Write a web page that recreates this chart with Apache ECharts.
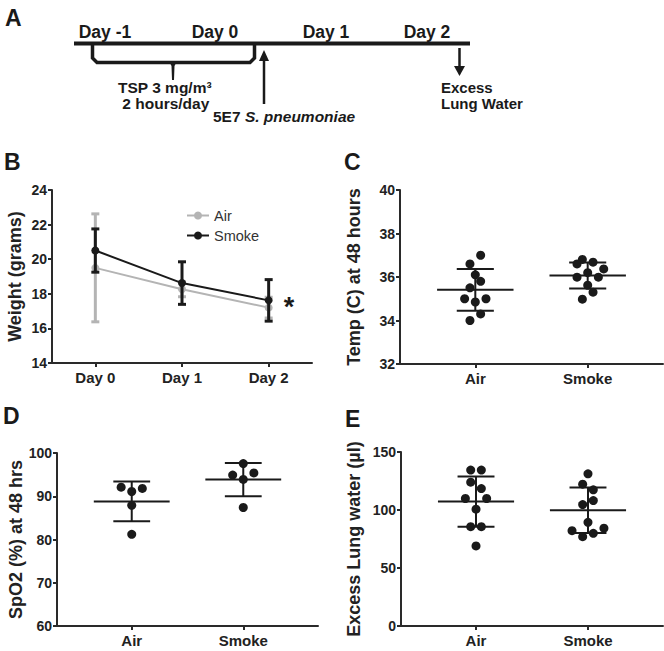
<!DOCTYPE html>
<html><head><meta charset="utf-8">
<script src="https://cdn.jsdelivr.net/npm/echarts@6/dist/echarts.min.js"></script>
<style>html,body{margin:0;padding:0;background:#fff}#c{width:664px;height:651px}</style>
</head><body><div id="c"></div>
<script>
// ---------- Panel B: body weight ----------
const weightDays = ['Day 0', 'Day 1', 'Day 2'];
const airWeight = [19.5, 18.26, 17.2];
const airWeightSD = [3.12, 0.43, 0.6];
const smokeWeight = [20.5, 18.62, 17.62];
const smokeWeightSD = [1.25, 1.23, 1.2];

// ---------- Groups for C, D, E ----------
const groups = ['Air', 'Smoke'];

// Panel C: temperature at 48 h
const tempAir = [37.0, 36.6, 36.1, 35.8, 35.5, 35.0, 34.85, 35.0, 34.3, 34.0];
const tempAirJit = [1, -1, 0, 1, -1, -2, 0, 2, 1, -1];
const tempSmoke = [36.81, 36.6, 36.68, 36.37, 36.2, 35.99, 35.99, 35.62, 35.3, 34.98];
const tempSmokeJit = [-1, -2, 1, 3, 0, -2, 2, 0, 1, -1];
const tempMean = [35.41, 36.07];
const tempSD = [0.96, 0.6];

// Panel D: SpO2 at 48 h
const spo2Air = [92.1, 91.1, 91.8, 87.9, 81.2];
const spo2AirJit = [-2, 0, 2, 0, 0];
const spo2Smoke = [97.55, 94.9, 95.4, 93.9, 87.4];
const spo2SmokeJit = [0, -2, 2, 0, 0];
const spo2Mean = [88.8, 93.85];
const spo2SD = [4.6, 3.85];

// Panel E: excess lung water
const elwAir = [134.4, 134.4, 124, 118.5, 109.9, 109.9, 100.7, 85.6, 85.6, 69];
const elwAirJit = [-1, 1, -1, 1, -2, 2, 0, -1, 1, 0];
const elwSmoke = [131.2, 122.3, 117.4, 104.7, 108.1, 89.4, 82.2, 84.3, 77.0, 79.9];
const elwSmokeJit = [0, -1, 1, -1, 1, 0, -3, 3, -1, 1];
const elwMean = [107.25, 99.8];
const elwSD = [21.65, 19.6];

// ---------- styling ----------
const FONT = "'Liberation Sans', Arial, sans-serif";
const INK = '#1a1a1a';
const GRAY = '#b4b4b4';
const JSTEP = 0.0475;

const axisLine = { lineStyle: { color: '#2a2a2a', width: 2 } };
const axisTick = { length: 4, lineStyle: { color: '#2a2a2a', width: 2 } };
const lbl = { color: '#222', fontWeight: 'bold', fontSize: 14, fontFamily: FONT };
const nameStyle = { color: '#222', fontWeight: 'bold', fontSize: 18, fontFamily: FONT };

function yAx(gi, min, max, interval, name, gap) {
  return {
    type: 'value', gridIndex: gi, min, max, interval,
    name, nameLocation: 'middle', nameRotate: 90, nameGap: gap, nameTextStyle: nameStyle,
    axisLine: Object.assign({ show: true }, axisLine), axisTick: Object.assign({ show: true }, axisTick),
    axisLabel: Object.assign({}, lbl, { margin: 5 }), splitLine: { show: false }
  };
}
function xGroupAx(gi) {
  return {
    type: 'value', gridIndex: gi, min: 0.33, max: 2.67,
    axisLine: Object.assign({ show: true, onZero: false }, axisLine),
    axisTick: Object.assign({ show: true, customValues: [1, 2] }, axisTick),
    axisLabel: Object.assign({}, lbl, { margin: 7, fontSize: 15, customValues: [1, 2], formatter: v => groups[Math.round(v) - 1] }),
    splitLine: { show: false }
  };
}
function dots(ai, vals, jit, g) {
  return {
    type: 'scatter', xAxisIndex: ai, yAxisIndex: ai, symbol: 'circle', symbolSize: 9,
    itemStyle: { color: INK, opacity: 1 }, silent: true, z: 3,
    data: vals.map((v, i) => [g + jit[i] * JSTEP, v])
  };
}
function meanSd(ai, means, sds) {
  return {
    type: 'custom', xAxisIndex: ai, yAxisIndex: ai, silent: true, z: 2,
    data: means.map((m, i) => [i + 1, m, sds[i]]),
    renderItem(p, api) {
      const x = api.value(0), m = api.value(1), s = api.value(2);
      const w = 0.34, c = 0.165;
      const st = { stroke: INK, lineWidth: 2 };
      const a = api.coord([x - w, m]), b = api.coord([x + w, m]);
      const t0 = api.coord([x - c, m + s]), t1 = api.coord([x + c, m + s]);
      const b0 = api.coord([x - c, m - s]), b1 = api.coord([x + c, m - s]);
      const vt = api.coord([x, m + s]), vb = api.coord([x, m - s]);
      return { type: 'group', children: [
        { type: 'line', shape: { x1: a[0], y1: a[1], x2: b[0], y2: b[1] }, style: st },
        { type: 'line', shape: { x1: t0[0], y1: t0[1], x2: t1[0], y2: t1[1] }, style: st },
        { type: 'line', shape: { x1: b0[0], y1: b0[1], x2: b1[0], y2: b1[1] }, style: st },
        { type: 'line', shape: { x1: vt[0], y1: vt[1], x2: vb[0], y2: vb[1] }, style: st }
      ] };
    }
  };
}
function errBars(means, sds, color, z) {
  return {
    type: 'custom', xAxisIndex: 0, yAxisIndex: 0, silent: true, z,
    data: means.map((m, i) => [i, m, sds[i]]),
    renderItem(p, api) {
      const x = api.value(0), m = api.value(1), s = api.value(2);
      const top = api.coord([x, m + s]), bot = api.coord([x, m - s]);
      const st = { stroke: color, lineWidth: 3 };
      return { type: 'group', children: [
        { type: 'line', shape: { x1: top[0], y1: top[1], x2: bot[0], y2: bot[1] }, style: st },
        { type: 'line', shape: { x1: top[0] - 4, y1: top[1], x2: top[0] + 4, y2: top[1] }, style: st },
        { type: 'line', shape: { x1: bot[0] - 4, y1: bot[1], x2: bot[0] + 4, y2: bot[1] }, style: st }
      ] };
    }
  };
}

// ---------- Panel A graphic ----------
const bold = (s) => ({ fontFamily: FONT, fontWeight: 'bold', fontSize: s, fill: INK });
const graphics = [
  { type: 'text', left: 5, top: 6, style: Object.assign({ text: 'A' }, bold(23)) },
  { type: 'text', left: 4, top: 150, style: Object.assign({ text: 'B' }, bold(23)) },
  { type: 'text', left: 344, top: 150, style: Object.assign({ text: 'C' }, bold(23)) },
  { type: 'text', left: 3, top: 404, style: Object.assign({ text: 'D' }, bold(23)) },
  { type: 'text', left: 345, top: 407, style: Object.assign({ text: 'E' }, bold(23)) },
  { type: 'line', shape: { x1: 74, y1: 43.5, x2: 470, y2: 43.5 }, style: { stroke: INK, lineWidth: 4 } },
  { type: 'polyline', shape: { points: [[92.5, 44], [92.5, 58], [97, 62.5], [250, 62.5], [254.5, 58], [254.5, 44]] }, style: { stroke: INK, lineWidth: 3.5, fill: null } },
  { type: 'polygon', shape: { points: [[169.5, 62], [176.5, 62], [174.5, 66], [174, 80], [172, 80], [171.5, 66]] }, style: { fill: INK } },
  { type: 'line', shape: { x1: 264, y1: 104, x2: 264, y2: 58 }, style: { stroke: INK, lineWidth: 2.5 } },
  { type: 'polygon', shape: { points: [[264, 50], [259, 61], [269, 61]] }, style: { fill: INK } },
  { type: 'line', shape: { x1: 459.5, y1: 48, x2: 459.5, y2: 69 }, style: { stroke: INK, lineWidth: 2.5 } },
  { type: 'polygon', shape: { points: [[459.5, 76], [454, 66], [465, 66]] }, style: { fill: INK } },
  { type: 'text', x: 105, y: 32, style: Object.assign({ text: 'Day -1', align: 'center', verticalAlign: 'middle' }, bold(17.5)) },
  { type: 'text', x: 215, y: 32, style: Object.assign({ text: 'Day 0', align: 'center', verticalAlign: 'middle' }, bold(17.5)) },
  { type: 'text', x: 326, y: 32, style: Object.assign({ text: 'Day 1', align: 'center', verticalAlign: 'middle' }, bold(17.5)) },
  { type: 'text', x: 427, y: 32, style: Object.assign({ text: 'Day 2', align: 'center', verticalAlign: 'middle' }, bold(17.5)) },
  { type: 'text', x: 118, y: 95.5, style: Object.assign({ text: 'TSP 3 mg/m³\n 2 hours/day', align: 'left', verticalAlign: 'middle', lineHeight: 15.5 }, bold(15.5)) },
  { type: 'text', x: 213, y: 116, style: {
      text: '5E7 {i|S. pneumoniae}', verticalAlign: 'middle', fontFamily: FONT, fontWeight: 'bold', fontSize: 15.5, fill: INK,
      rich: { i: { fontFamily: FONT, fontWeight: 'bold', fontStyle: 'italic', fontSize: 15.5, fill: INK } } } },
  { type: 'text', x: 441, y: 95, style: Object.assign({ text: 'Excess\nLung Water', verticalAlign: 'middle', lineHeight: 16 }, bold(15)) },
  { type: 'text', x: 289, y: 307, style: Object.assign({ text: '*', align: 'center', verticalAlign: 'middle' }, bold(27)) }
];

const chart = echarts.init(document.getElementById('c'), null, { renderer: 'svg' });
chart.setOption({
  backgroundColor: '#fff',
  animation: false,
  textStyle: { fontFamily: FONT },
  graphic: graphics,
  legend: {
    data: ['Air', 'Smoke'], orient: 'vertical', left: 181, top: 203, itemWidth: 22, itemHeight: 10, itemGap: 5,
    textStyle: { fontSize: 14.5, color: '#333', fontFamily: FONT }
  },
  grid: [
    { left: 52, top: 190, width: 260, height: 173 },
    { left: 400, top: 190, width: 263, height: 174 },
    { left: 57, top: 453, width: 261, height: 173 },
    { left: 401, top: 452, width: 262, height: 174 }
  ],
  xAxis: [
    {
      type: 'category', gridIndex: 0, data: weightDays, boundaryGap: true,
      axisLine: Object.assign({ show: true }, axisLine),
      axisTick: Object.assign({ show: true, alignWithLabel: true }, axisTick),
      axisLabel: Object.assign({}, lbl, { margin: 7, fontSize: 15 })
    },
    xGroupAx(1), xGroupAx(2), xGroupAx(3)
  ],
  yAxis: [
    yAx(0, 14, 24, 2, 'Weight (grams)', 28),
    yAx(1, 32, 40, 2, 'Temp (C) at 48 hours', 37),
    yAx(2, 60, 100, 10, 'SpO2 (%) at 48 hrs', 32),
    yAx(3, 0, 150, 50, 'Excess Lung water (\u00b5l)', 38)
  ],
  series: [
    errBars(airWeight, airWeightSD, GRAY, 2),
    { name: 'Air', type: 'line', xAxisIndex: 0, yAxisIndex: 0, data: airWeight, symbol: 'circle', symbolSize: 8,
      itemStyle: { color: GRAY }, lineStyle: { color: GRAY, width: 2 }, z: 3, silent: true },
    errBars(smokeWeight, smokeWeightSD, INK, 4),
    { name: 'Smoke', type: 'line', xAxisIndex: 0, yAxisIndex: 0, data: smokeWeight, symbol: 'circle', symbolSize: 8,
      itemStyle: { color: INK }, lineStyle: { color: INK, width: 2 }, z: 5, silent: true },
    dots(1, tempAir, tempAirJit, 1), dots(1, tempSmoke, tempSmokeJit, 2), meanSd(1, tempMean, tempSD),
    dots(2, spo2Air, spo2AirJit, 1), dots(2, spo2Smoke, spo2SmokeJit, 2), meanSd(2, spo2Mean, spo2SD),
    dots(3, elwAir, elwAirJit, 1), dots(3, elwSmoke, elwSmokeJit, 2), meanSd(3, elwMean, elwSD)
  ]
});
</script></body></html>
